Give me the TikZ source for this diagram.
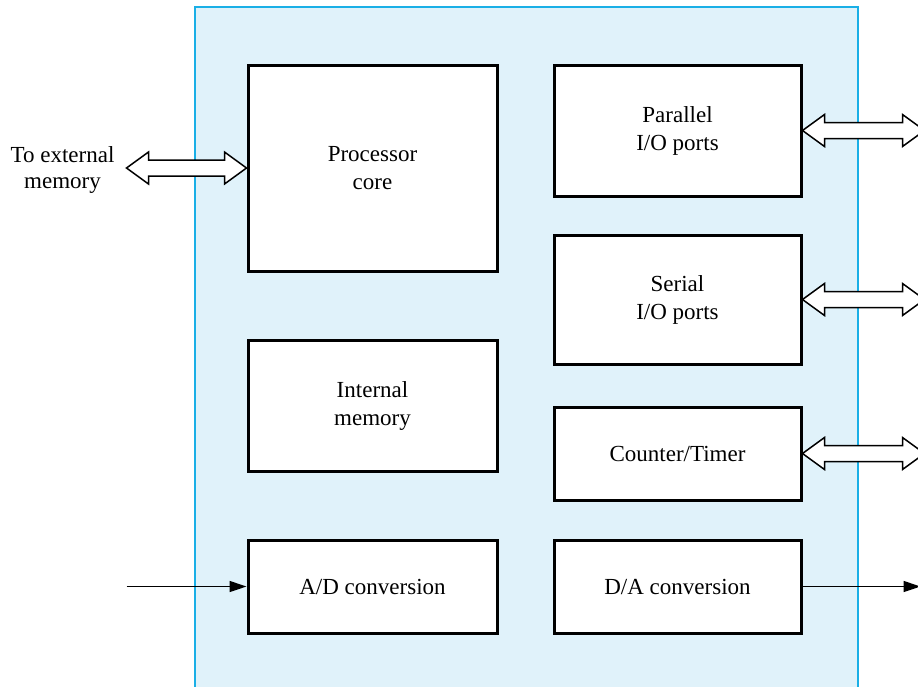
\documentclass[tikz,border=0pt]{standalone}
\usepackage{fontspec}
\setmainfont{Liberation Serif}
\usetikzlibrary{calc,arrows.meta}
\definecolor{chipfill}{HTML}{E0F2FA}
\definecolor{chipline}{HTML}{1AAFE6}
\tikzset{
  blk/.style={draw=black, line width=3pt, fill=white, rectangle, align=center,
    inner sep=0pt, font=\fontsize{23}{28}\selectfont},
  lbl/.style={align=center, inner sep=0pt, font=\fontsize{23}{26}\selectfont},
  hollow/.style={draw=black, fill=white, line width=1.5pt, line join=miter},
  sig/.style={draw=black, line width=1.4pt, -{Triangle[length=17pt,width=11pt]}}
}
\newcommand{\hollowarrow}[2]{%
  \path[hollow] let \p1=(#1), \p2=(#2) in
    (\x1,\y1) -- (\x1+22pt,\y1+16pt) -- (\x1+22pt,\y1+8pt) --
    (\x2-22pt,\y1+8pt) -- (\x2-22pt,\y1+16pt) -- (\x2,\y1) --
    (\x2-22pt,\y1-16pt) -- (\x2-22pt,\y1-8pt) -- (\x1+22pt,\y1-8pt) --
    (\x1+22pt,\y1-16pt) -- cycle;}
\begin{document}
\begin{tikzpicture}[x=1pt,y=-1pt]
\useasboundingbox (0,0) rectangle (918,686);
% chip outline
\draw[chipline, line width=2pt, fill=chipfill] (195,700) -- (195,7) -- (858,7) -- (858,700);
% blocks
\node[blk, minimum width=249, minimum height=206] (proc) at (372.5,168) {Processor\\core};
\node[blk, minimum width=249, minimum height=131] (mem) at (372.5,405.5) {Internal\\memory};
\node[blk, minimum width=249, minimum height=93] (ad) at (372.5,586.5) {A/D conversion};
\node[blk, minimum width=247, minimum height=131] (par) at (677.5,130.5) {Parallel\\I/O ports};
\node[blk, minimum width=247, minimum height=129] (ser) at (677.5,299.5) {Serial\\I/O ports};
\node[blk, minimum width=247, minimum height=93] (ctr) at (677.5,453.5) {Counter/Timer};
\node[blk, minimum width=247, minimum height=93] (da) at (677.5,586.5) {D/A conversion};
% external label
\node[lbl] (ext) at (62.5,170) {To external\\memory};
% connector end points
\coordinate (extm) at ($(proc.west)+(-120,0)$);
\coordinate (parx) at ($(par.east)+(122,0)$);
\coordinate (serx) at ($(ser.east)+(122,0)$);
\coordinate (ctrx) at ($(ctr.east)+(122,0)$);
\coordinate (adin) at ($(ad.west)+(-120,0)$);
\coordinate (daout) at ($(da.east)+(118,0)$);
% hollow bus arrows
\hollowarrow{extm}{proc.west}
\hollowarrow{par.east}{parx}
\hollowarrow{ser.east}{serx}
\hollowarrow{ctr.east}{ctrx}
% signal arrows
\draw[sig] (adin) -- (ad.west);
\draw[sig] (da.east) -- (daout);
\end{tikzpicture}
\end{document}
